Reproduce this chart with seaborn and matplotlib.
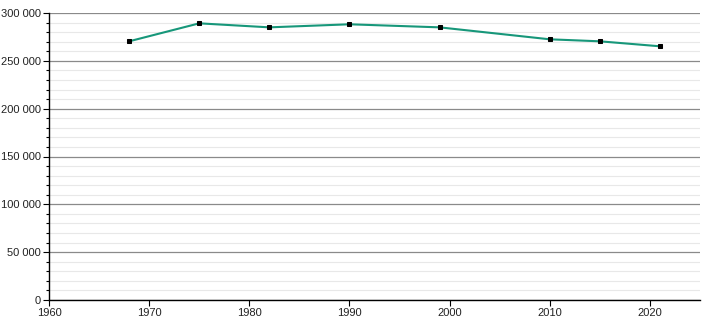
import matplotlib
matplotlib.use("Agg")
import matplotlib.pyplot as plt
import matplotlib.ticker as mticker
import seaborn as sns
import pandas as pd

years = [1968, 1975, 1982, 1990, 1999, 2010, 2015, 2021]
population = [270400, 289200, 285000, 288200, 285000, 272500, 270400, 265200]

sns.set_theme(style="white")
plt.rcParams['font.family'] = ['Liberation Sans', 'DejaVu Sans']

df = pd.DataFrame({"year": years, "population": population})

fig = plt.figure(figsize=(7.1, 3.2), dpi=100)
ax = fig.add_axes([49/710, 20/320, (700-49)/710, 287/320])

ax.set_xlim(1960, 2025)
ax.set_ylim(0, 300000)
ax.yaxis.set_major_locator(mticker.MultipleLocator(50000))
ax.yaxis.set_minor_locator(mticker.MultipleLocator(10000))
ax.xaxis.set_major_locator(mticker.MultipleLocator(10))
ax.yaxis.set_major_formatter(mticker.FuncFormatter(lambda v, p: f"{int(v):,}".replace(",", " ")))

ax.grid(which="minor", axis="y", color="#e8e8e8", linewidth=0.8, zorder=0)
ax.grid(which="major", axis="y", color="#8a8a8a", linewidth=0.9, zorder=0)
ax.set_axisbelow(True)

sns.lineplot(data=df, x="year", y="population", ax=ax, color="#17977a", linewidth=1.5,
             marker="s", markersize=3.2, markerfacecolor="black", markeredgecolor="black", zorder=3)

for s in ["top", "right"]:
    ax.spines[s].set_visible(False)
for s in ["left", "bottom"]:
    ax.spines[s].set_color("black")
    ax.spines[s].set_linewidth(1.0)

ax.tick_params(axis="both", which="major", direction="out", length=4, width=0.8, color="black",
               labelsize=8, labelcolor="#222222", left=True, bottom=True, pad=2)
ax.tick_params(axis="y", which="minor", direction="out", length=2, width=0.8, color="black", left=True)
ax.set_xlabel("")
ax.set_ylabel("")

fig.savefig("out.png", dpi=100)
